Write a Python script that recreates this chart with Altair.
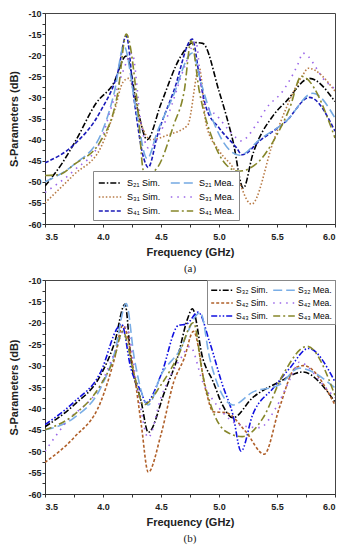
import altair as alt
import pandas as pd

# ---------------- Panel (a) data ----------------
a_names = ["S₂₁ Sim.", "S₃₁ Sim.", "S₄₁ Sim.", "S₂₁ Mea.", "S₃₁ Mea.", "S₄₁ Mea."]

s21_sim_f = [3.5, 3.65, 3.77, 3.94, 4.09, 4.2, 4.3, 4.38, 4.5, 4.67, 4.78, 4.86, 5.0, 5.12, 5.21, 5.29, 5.47, 5.58, 5.78, 6.0]
s21_sim_db = [-51, -45.5, -40, -31.4, -26.7, -20.2, -33, -40, -31.5, -20.3, -17, -17.2, -28.5, -40.3, -51.5, -43.6, -34.2, -30.9, -25.5, -31]

s21_mea_f = [3.5, 3.75, 3.98, 4.1, 4.18, 4.28, 4.38, 4.47, 4.6, 4.77, 4.85, 4.95, 5.18, 5.35, 5.58, 5.81, 6.0]
s21_mea_db = [-50, -45.9, -38.9, -28.5, -17.8, -32, -44.5, -38, -30, -19.5, -27, -35.6, -43.7, -40, -35.6, -29, -34.9]

s31_sim_f = [3.5, 3.75, 3.98, 4.1, 4.17, 4.22, 4.33, 4.41, 4.56, 4.73, 4.83, 4.89, 5.0, 5.12, 5.28, 5.47, 5.58, 5.72, 5.77, 6.0]
s31_sim_db = [-55, -48.3, -41.9, -33, -26.5, -25.5, -36.5, -40, -38.9, -36.6, -23, -36.5, -42.6, -46.6, -55.3, -40.3, -32.5, -24.8, -23.1, -28.5]

s31_mea_f = [3.5, 3.75, 3.98, 4.07, 4.17, 4.25, 4.33, 4.39, 4.56, 4.7, 4.8, 4.86, 5.0, 5.15, 5.19, 5.32, 5.41, 5.55, 5.69, 5.72, 5.92, 6.0]
s31_mea_db = [-52.5, -47.3, -40.3, -32.5, -24, -19.5, -36.5, -42, -34.2, -23, -16.8, -30.2, -34.9, -39.6, -40.3, -36.5, -32.5, -28.5, -21.5, -19.5, -26.2, -28]

s41_sim_f = [3.5, 3.75, 3.98, 4.13, 4.2, 4.27, 4.35, 4.39, 4.47, 4.61, 4.77, 4.83, 4.89, 5.0, 5.15, 5.2, 5.35, 5.58, 5.78, 6.0]
s41_sim_db = [-45.5, -41.2, -33.2, -23.8, -15.4, -30.9, -44.3, -46.6, -38.9, -28.5, -16.2, -24.8, -32.5, -37.2, -41.9, -43.6, -40.3, -35.6, -30, -38]

s41_mea_f = [3.5, 3.62, 3.75, 3.98, 4.13, 4.2, 4.3, 4.35, 4.4, 4.47, 4.61, 4.7, 4.76, 4.83, 4.95, 5.06, 5.17, 5.35, 5.47, 5.61, 5.71, 6.0]
s41_mea_db = [-48.5, -48.3, -45.9, -40.3, -28.5, -15, -32.5, -47.5, -48, -46.6, -36.5, -28.5, -16.6, -28.5, -40.3, -45.9, -47.5, -45, -40.3, -32.5, -25, -39.6]

# ---------------- Panel (b) data ----------------
b_names = ["S₃₂ Sim.", "S₄₂ Sim.", "S₄₃ Sim.", "S₃₂ Mea.", "S₄₂ Mea.", "S₄₃ Mea."]

s32_sim_f = [3.5, 3.75, 3.98, 4.1, 4.19, 4.24, 4.33, 4.39, 4.53, 4.64, 4.73, 4.77, 4.86, 4.95, 5.03, 5.12, 5.29, 5.52, 5.72, 6.0]
s32_sim_db = [-44.3, -39.2, -32.2, -24.6, -15.6, -28.3, -38.5, -45.6, -36.2, -28.3, -19, -16.7, -28.3, -33.8, -39.2, -42.2, -37.5, -33.8, -31.5, -38.5]

s32_mea_f = [3.5, 3.75, 3.98, 4.1, 4.2, 4.27, 4.39, 4.5, 4.65, 4.84, 4.92, 5.03, 5.12, 5.29, 5.52, 5.69, 6.0]
s32_mea_db = [-45, -42.2, -35.2, -27, -15.5, -28.3, -39.2, -32.2, -26.9, -17.6, -28.3, -36.9, -39.2, -36.2, -34.5, -30.6, -35.2]

s42_sim_f = [3.5, 3.75, 3.98, 4.1, 4.17, 4.27, 4.33, 4.39, 4.5, 4.61, 4.7, 4.78, 4.89, 4.95, 5.06, 5.23, 5.39, 5.52, 5.66, 5.73, 6.0]
s42_sim_db = [-52.6, -46.8, -38.5, -28.3, -20.6, -32.2, -43.8, -54.9, -46.1, -33.8, -28.3, -22, -36.2, -40.8, -41, -45.4, -50.7, -39.9, -30.5, -30, -39.2]

s42_mea_f = [3.5, 3.68, 3.98, 4.1, 4.2, 4.3, 4.39, 4.5, 4.67, 4.75, 4.86, 5.0, 5.17, 5.35, 5.49, 5.63, 5.69, 5.92, 6.0]
s42_mea_db = [-50, -43.3, -34.5, -27, -21, -36, -46.8, -37.5, -28.3, -25.5, -33.8, -39.9, -43.8, -44.5, -39.9, -32.2, -29.2, -35.2, -37.5]

s43_sim_f = [3.5, 3.75, 3.98, 4.13, 4.16, 4.24, 4.33, 4.37, 4.5, 4.65, 4.72, 4.82, 4.92, 5.03, 5.12, 5.19, 5.29, 5.47, 5.61, 5.77, 6.0]
s43_sim_db = [-43.8, -38.5, -31.5, -21, -20.3, -30.6, -36.2, -38.7, -32.2, -20.6, -20.3, -17.5, -24.6, -34.5, -41.5, -50, -41.5, -35.2, -30.6, -26, -33.8]

s43_mea_f = [3.5, 3.75, 3.98, 4.1, 4.17, 4.27, 4.35, 4.5, 4.65, 4.78, 4.86, 4.95, 5.06, 5.2, 5.38, 5.55, 5.76, 6.0]
s43_mea_db = [-45, -41.5, -34.5, -28, -22, -32.2, -39.2, -34.5, -27.6, -20, -32.2, -40.8, -45.4, -46.6, -42.2, -32.2, -25.5, -37]

x_ticks = [3.5, 3.75, 4.0, 4.25, 4.5, 4.75, 5.0, 5.25, 5.5, 5.75, 6.0]
y_ticks = [-60 + 2.5 * i for i in range(21)]

# order: Sim x3, Mea x3
a_colors = ["#000000", "#B87A45", "#1A1AB8", "#74A9E2", "#9A66E8", "#86862A"]
b_colors = ["#000000", "#B0602A", "#1010E0", "#7AAEE6", "#9A66E8", "#86862A"]
a_dash = [[6, 2, 1.5, 2], [1.5, 2], [4, 2], [9, 4], [1.5, 5], [8, 3, 2, 3]]
b_dash = [[6, 2, 1.5, 2], [3, 2], [6, 2, 1.5, 2, 1.5, 2], [9, 4], [1.5, 5], [7, 3, 2, 3]]

FONT = "Liberation Sans"


def frame(names, series):
    rows = []
    for i, (n, (fs, ds)) in enumerate(zip(names, series)):
        for f, d in zip(fs, ds):
            rows.append({"f": f, "db": d, "s": n, "o": i})
    return pd.DataFrame(rows)


def panel(df, names, cols, dashes, height, legend, label):
    x = alt.X("f:Q", scale=alt.Scale(domain=[3.5, 6.0], nice=False),
              axis=alt.Axis(title="Frequency (GHz)", values=x_ticks,
                            labelExpr="(round(datum.value*100) % 50 == 0) ? format(datum.value, '.1f') : ''",
                            grid=False, tickSize=3, labelPadding=5, titlePadding=5,
                            labelFontSize=9, labelFontWeight="bold", titleFontSize=11,
                            titleFontWeight="bold", labelFont=FONT, titleFont=FONT,
                            domainColor="#333", tickColor="#333", labelColor="#222", titleColor="#222"))
    y = alt.Y("db:Q", scale=alt.Scale(domain=[-60, -10], nice=False),
              axis=alt.Axis(title="S-Parameters (dB)", values=y_ticks,
                            labelExpr="(datum.value % 5 == 0) ? datum.value : ''",
                            grid=False, tickSize=3, labelPadding=1, titlePadding=8,
                            labelFontSize=9, labelFontWeight="bold", titleFontSize=11,
                            titleFontWeight="bold", labelFont=FONT, titleFont=FONT,
                            domainColor="#333", tickColor="#333", labelColor="#222", titleColor="#222"))
    leg = alt.Legend(title=None, columns=2, symbolStrokeWidth=1.6, labelFont=FONT,
                     fillColor="white", strokeColor="#888",
                     rowPadding=1, labelLimit=80, **legend)
    return alt.Chart(df).mark_line(strokeWidth=1.6, clip=True, interpolate="monotone").encode(
        x=x, y=y,
        color=alt.Color("s:N", scale=alt.Scale(domain=names, range=cols), legend=leg),
        strokeDash=alt.StrokeDash("s:N", scale=alt.Scale(domain=names, range=dashes), legend=leg),
        detail="s:N",
        order="o:Q",
    ).properties(width=290, height=height,
                 title=alt.TitleParams(label, orient="bottom", font="Liberation Serif",
                                       fontSize=11, fontWeight="normal", anchor="middle", offset=6,
                                       color="#222"))


df_a = frame(a_names, [(s21_sim_f, s21_sim_db), (s31_sim_f, s31_sim_db), (s41_sim_f, s41_sim_db),
                       (s21_mea_f, s21_mea_db), (s31_mea_f, s31_mea_db), (s41_mea_f, s41_mea_db)])
df_b = frame(b_names, [(s32_sim_f, s32_sim_db), (s42_sim_f, s42_sim_db), (s43_sim_f, s43_sim_db),
                       (s32_mea_f, s32_mea_db), (s42_mea_f, s42_mea_db), (s43_mea_f, s43_mea_db)])

pa = panel(df_a, a_names, a_colors, a_dash, 211,
           dict(orient="none", legendX=48, legendY=158, symbolType="M-1.6,0H1.6", symbolSize=196,
                labelFontSize=9, padding=4, columnPadding=6, symbolOffset=5, labelOffset=9),
           "(a)")
pb = panel(df_b, b_names, b_colors, b_dash, 214,
           dict(orient="top-right", offset=0, symbolType="M-1.8,0H1.8", symbolSize=144,
                labelFontSize=8.5, padding=3, columnPadding=2, symbolOffset=5, labelOffset=7),
           "(b)")

chart = alt.vconcat(pa, pb, spacing=0).resolve_scale(
    color="independent", strokeDash="independent"
).resolve_legend(color="independent", strokeDash="independent").configure(
    padding={"left": 0, "top": 0, "right": 5, "bottom": 0}
).configure_view(stroke="#444", strokeWidth=1)

chart.save("out.html", embed_options={"renderer": "svg", "actions": False})
